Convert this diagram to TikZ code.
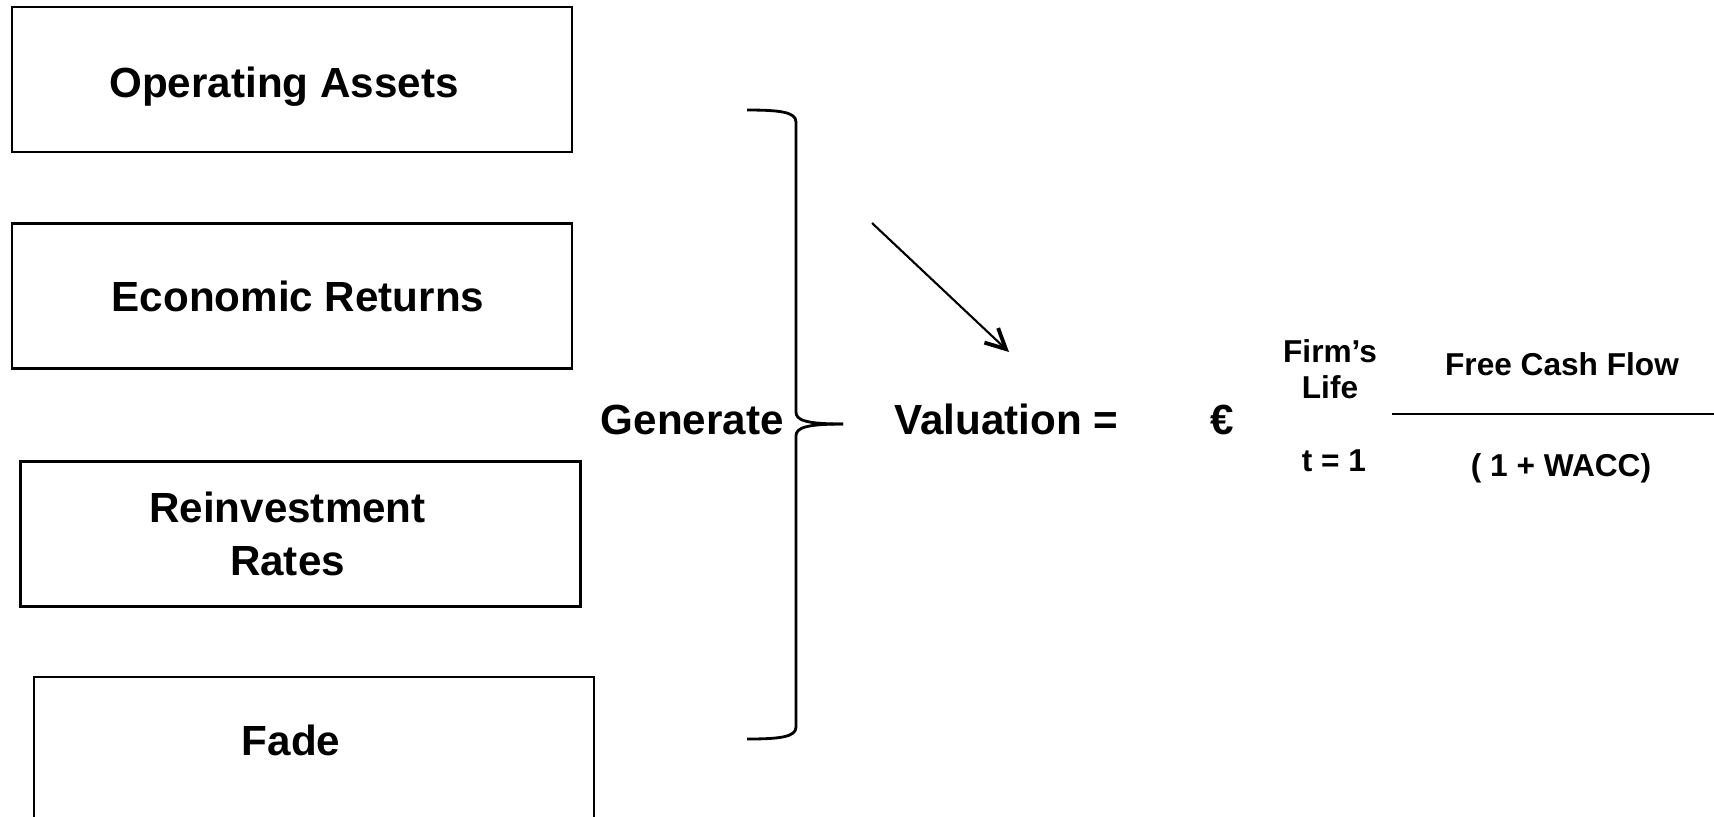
\documentclass[tikz,border=0pt]{standalone}
\usepackage{fontspec}
\setmainfont{Liberation Sans}
\usetikzlibrary{arrows.meta,positioning}

\begin{document}
\begin{tikzpicture}[line width=0.8pt,driver box/.style={draw,minimum width=5.6cm,minimum height=1.45cm,inner sep=0pt},big text/.style={inner sep=0pt,align=center,font=\bfseries\fontsize{12}{15}\selectfont},small text/.style={inner sep=0pt,align=center,font=\bfseries\fontsize{9}{10.2}\selectfont}]
\useasboundingbox (0,0) rectangle (17.14,-8.16);
\begin{scope}
\node[driver box] (assets) at (2.92,-0.795) {};
\node[driver box] (returns) at (2.92,-2.96) {};
\node[driver box] (reinvest) at (3.005,-5.34) {};
\node[driver box] (fade) at (3.14,-7.495) {};
\node[big text] (assets text) at ([xshift=-0.08cm,yshift=-0.07cm]assets.center) {Operating Assets};
\node[big text] (returns text) at ([xshift=0.06cm]returns.center) {Economic Returns};
\node[big text] (reinvest text) at ([xshift=-0.13cm]reinvest.center) {Reinvestment\\Rates};
\node[big text] (fade text) at ([xshift=-0.23cm,yshift=0.09cm]fade.center) {Fade};
\end{scope}
\begin{scope}
\node[big text,anchor=base east] (generate) at (7.85,-4.34) {Generate};
\node[big text,anchor=base west] (valuation) at (8.93,-4.34) {Valuation =};
\node[big text,anchor=base] (sum) at (12.22,-4.34) {€};
\node[small text] (life) at (13.30,-3.69) {Firm’s\\Life};
\node[small text,anchor=base] (start) at (13.34,-4.71) {t = 1};
\node[small text,anchor=base] (fcf) at (15.62,-3.75) {Free Cash Flow};
\node[small text,anchor=base] (wacc) at (15.61,-4.76) {( 1 + WACC)};
\end{scope}
\begin{scope}
\draw (7.47,-1.10) .. controls (7.80,-1.10) and (7.96,-1.12) .. (7.96,-1.22) -- (7.96,-4.12) .. controls (7.96,-4.20) and (8.05,-4.24) .. (8.43,-4.24);
\draw (8.43,-4.24) .. controls (8.05,-4.24) and (7.96,-4.28) .. (7.96,-4.36) -- (7.96,-7.27) .. controls (7.96,-7.37) and (7.80,-7.39) .. (7.47,-7.39);
\coordinate (arrow start) at (8.72,-2.23);
\coordinate (arrow end) at (10.09,-3.52);
\draw[line width=0.6pt,-{Straight Barb[length=2mm,width=2mm,line width=1.1pt]}] (arrow start) -- (arrow end);
\coordinate (bar start) at (13.92,-4.14);
\coordinate (bar end) at (17.14,-4.14);
\draw (bar start) -- (bar end);
\end{scope}
\end{tikzpicture}
\end{document}
